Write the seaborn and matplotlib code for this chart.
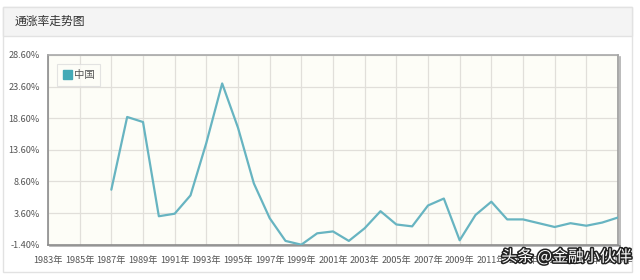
import matplotlib
matplotlib.use('Agg')
import matplotlib.pyplot as plt
import matplotlib.patheffects as pe
from matplotlib.patches import Rectangle, Patch
import seaborn as sns
import pandas as pd

# ---- data ----
years = list(range(1987, 2020))
cpi = [7.3, 18.8, 18.0, 3.1, 3.5, 6.4, 14.7, 24.1, 17.1, 8.3, 2.8, -0.8, -1.4,
       0.4, 0.7, -0.8, 1.2, 3.9, 1.8, 1.5, 4.8, 5.9, -0.7, 3.3, 5.4, 2.6, 2.6,
       2.0, 1.4, 2.0, 1.6, 2.1, 2.9]
series_name = "中国"
title = "通涨率走势图"
x_ticks = list(range(1983, 2020, 2))
x_labels = [f"{y}年" for y in x_ticks]
y_ticks = [-1.4, 3.6, 8.6, 13.6, 18.6, 23.6, 28.6]
y_labels = [f"{v:.2f}%" for v in y_ticks]
watermark = "头条 @金融小伙伴"

sns.set_theme(style='white')
plt.rcParams['font.family'] = ['Noto Sans CJK SC', 'DejaVu Sans']

W, H = 640, 280
fig = plt.figure(figsize=(6.4, 2.8), dpi=100)
fig.patch.set_facecolor('white')

def fx(px):
    return px / W

def fy(py):
    return 1 - py / H

# outer panel and header
fig.patches.append(Rectangle((fx(3), fy(272)), fx(629), 265 / H, transform=fig.transFigure,
                             facecolor='white', edgecolor='#e2e2e2', lw=1, zorder=-10))
fig.patches.append(Rectangle((fx(3), fy(36)), fx(629), 29 / H, transform=fig.transFigure,
                             facecolor='#f4f4f4', edgecolor='#e2e2e2', lw=1, zorder=-9))
fig.text(fx(15), fy(21.5), title, fontsize=8.5, color='#333333', va='center', ha='left')

line_color = '#67b4c1'
ax = fig.add_axes([fx(48), fy(244.7), fx(570), 189.7 / H])
ax.set_zorder(2)
ax.set_facecolor('#fdfdf7')
df = pd.DataFrame({'year': years, 'cpi': cpi, 'country': series_name})
sns.lineplot(data=df, x='year', y='cpi', ax=ax, color=line_color, lw=1.6,
             legend=False, zorder=3)
ax.set_xlim(1983, 2019)
ax.set_ylim(-1.4, 28.6)
ax.set_xticks(x_ticks)
ax.set_xticklabels(x_labels)
ax.set_yticks(y_ticks)
ax.set_yticklabels(y_labels)
ax.set_xlabel('')
ax.set_ylabel('')
ax.grid(True, color='#e1dfda', lw=0.9)
ax.tick_params(axis='both', labelsize=6.6, colors='#555555', length=3, width=0.8,
               direction='out', pad=3)
ax.tick_params(axis='x', pad=5)
ax.tick_params(axis='both', color='#999999')
for s in ['left', 'bottom', 'top', 'right']:
    ax.spines[s].set_visible(True)
    ax.spines[s].set_color('#8c8c8c')
    ax.spines[s].set_linewidth(1.2)
ax.spines['top'].set_color('#a8a8a8')
ax.spines['right'].set_color('#9a9a9a')
ax.spines['right'].set_path_effects([pe.SimpleLineShadow(offset=(1.2, -1.2), alpha=0.35), pe.Normal()])
ax.spines['bottom'].set_path_effects([pe.SimpleLineShadow(offset=(1.2, -1.2), alpha=0.35), pe.Normal()])

handle = Patch(facecolor='#44aab6', edgecolor='#44aab6')
leg = ax.legend([handle], [series_name], loc='upper left', bbox_to_anchor=(0.016, 0.952),
                borderaxespad=0, fontsize=7.5, frameon=True, fancybox=False,
                handlelength=0.9, handleheight=0.9, handletextpad=0.15, borderpad=0.55,
                labelcolor='#555555')
leg.get_frame().set_edgecolor('#dddddd')
leg.get_frame().set_facecolor('#fdfdf7')
leg.get_frame().set_linewidth(0.8)
leg.set_zorder(5)

fig.text(fx(632), fy(257), watermark, fontsize=11.5, color='white', ha='right', va='center',
         path_effects=[pe.withStroke(linewidth=2.2, foreground='#222222')], zorder=10)

fig.savefig('out.png', dpi=100)
